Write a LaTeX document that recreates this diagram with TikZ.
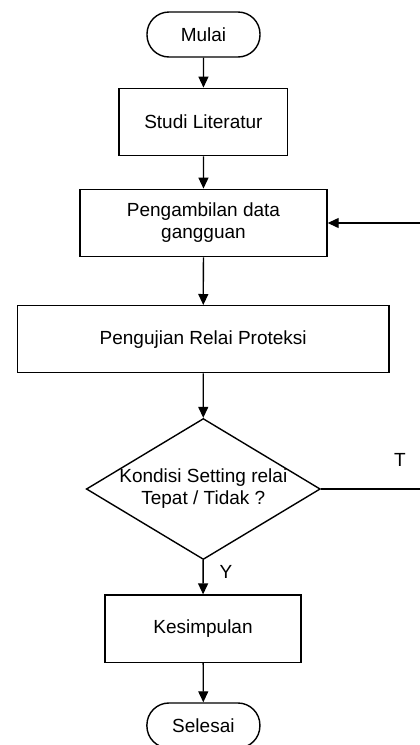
\documentclass[tikz,border=0pt]{standalone}
\usepackage{fontspec}
\setmainfont{Liberation Sans}
\usetikzlibrary{shapes.geometric,arrows.meta}
\begin{document}
\begin{tikzpicture}[x=1pt,y=-1pt,
  every node/.style={font=\fontsize{19}{22}\selectfont},
  procbox/.style={draw,line width=1.4pt,rectangle,align=center,inner sep=0pt},
  termbox/.style={draw,line width=1.4pt,rectangle,rounded corners=22pt,inner sep=0pt,minimum width=113pt,minimum height=45pt},
  decbox/.style={draw,line width=1.4pt,diamond,inner sep=0pt,minimum width=234pt,minimum height=141pt},
  flow/.style={line width=1.3pt,-{Triangle[length=11pt,width=10pt]}},
  plain/.style={line width=1.3pt}]
\useasboundingbox (0,0) rectangle (420,745);
\fill[white] (0,0) rectangle (420,745);
\node[termbox] (mulai) at (203.5,34.5) {Mulai};
\node[procbox,minimum width=168.7pt,minimum height=67.4pt] (studi) at (203.4,122) {Studi Literatur};
\node[procbox,minimum width=247pt,minimum height=67.4pt] (ambil) at (203.5,223) {Pengambilan data\\gangguan};
\node[procbox,minimum width=371.7pt,minimum height=67pt] (uji) at (203.2,339.2) {Pengujian Relai Proteksi};
\node[decbox,label={[align=center]center:Kondisi Setting relai\\Tepat / Tidak ?}] (kond) at (203.3,489) {};
\node[procbox,minimum width=196pt,minimum height=67.3pt] (simpul) at (203,628.7) {Kesimpulan};
\node[termbox] (selesai) at (203.4,725.5) {Selesai};
\node (tlab) at (400,460) {T};
\node (ylab) at (226,572) {Y};
\coordinate (fbin) at (422,223);
\coordinate (fbout) at (422,489);
\draw[flow] (mulai) -- (studi);
\draw[flow] (studi) -- (ambil);
\draw[flow] (ambil) -- (uji);
\draw[flow] (uji) -- (kond);
\draw[flow] (kond) -- (simpul);
\draw[flow] (simpul) -- (selesai);
\draw[flow] (fbin) -- (ambil);
\draw[plain] (kond.east) -- (fbout);
\end{tikzpicture}
\end{document}
